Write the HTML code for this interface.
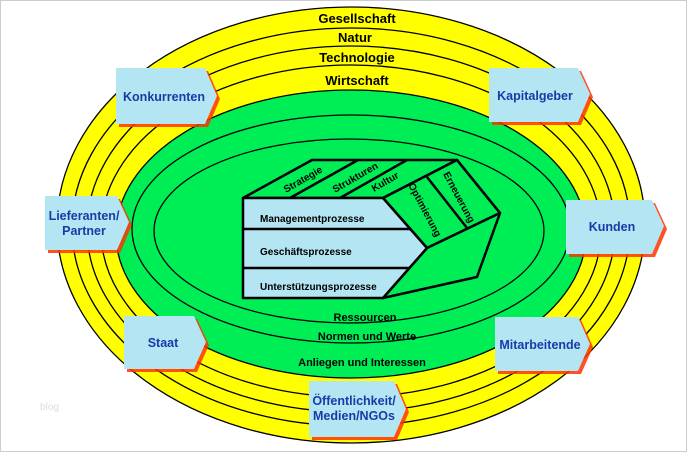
<!DOCTYPE html>
<html><head><meta charset="utf-8"><style>
html,body{margin:0;padding:0;background:#fff}
svg{display:block}
text{font-family:"Liberation Sans",sans-serif;font-weight:bold}
</style></head><body>
<svg width="687" height="452" viewBox="0 0 687 452" xmlns="http://www.w3.org/2000/svg">
<rect x="0.5" y="0.5" width="686" height="451" fill="#fff" stroke="#ccc"/>
<g stroke="#000" stroke-width="1.3">
<ellipse cx="351" cy="225" rx="294" ry="218" fill="#ffff00"/>
<ellipse cx="351" cy="227" rx="279" ry="199" fill="#ffff00"/>
<ellipse cx="351" cy="229" rx="264" ry="183" fill="#ffff00"/>
<ellipse cx="351" cy="231" rx="250" ry="166" fill="#ffff00"/>
<ellipse cx="351" cy="234" rx="235" ry="144" fill="#00ee55"/>
<ellipse cx="351" cy="229" rx="219" ry="114" fill="#00ee55"/>
<ellipse cx="349" cy="231" rx="195" ry="92" fill="#00ee55"/>
</g>
<g font-size="13" text-anchor="middle" fill="#000">
<text x="357" y="23">Gesellschaft</text>
<text x="355" y="42">Natur</text>
<text x="357" y="62">Technologie</text>
<text x="357" y="85">Wirtschaft</text>
</g>
<g font-size="11" text-anchor="middle" fill="#000">
<text x="365" y="321">Ressourcen</text>
<text x="367" y="340">Normen und Werte</text>
<text x="362" y="366">Anliegen und Interessen</text>
</g>
<!-- cube -->
<g stroke="#000" stroke-width="2.5" stroke-linejoin="round">
<polygon points="243,198 312,160 457,160 383,198" fill="#00ee55"/>
<polygon points="383,198 457,160 500,213 427,248" fill="#00ee55"/>
<polygon points="427,248 500,213 477,277 383,298" fill="#00ee55"/>
<polygon points="243,198 383,198 427,248 383,298 243,298" fill="#b3e5f2"/>
<line x1="243" y1="229" x2="410" y2="229"/>
<line x1="243" y1="268" x2="410" y2="268"/>
<line x1="290" y1="198" x2="358" y2="160"/>
<line x1="340" y1="198" x2="407" y2="160"/>
<line x1="427" y1="177" x2="467" y2="228"/>
<line x1="457" y1="160" x2="500" y2="213"/>
</g>
<g font-size="10" fill="#000">
<text x="0" y="0" transform="translate(286,193) rotate(-30)">Strategie</text>
<text x="0" y="0" transform="translate(335,193) rotate(-30)">Strukturen</text>
<text x="0" y="0" transform="translate(374,192) rotate(-30)">Kultur</text>
<text x="0" y="0" transform="translate(408,185) rotate(62)">Optimierung</text>
<text x="0" y="0" transform="translate(443,174) rotate(62)">Erneuerung</text>
<text x="260" y="222">Managementprozesse</text>
<text x="260" y="255">Geschäftsprozesse</text>
<text x="260" y="290">Unterstützungsprozesse</text>
</g>
<!-- arrow boxes -->
<g>
<defs>
<g id="d"></g>
</defs>
<polygon points="119,71 208,71 220,99 208,127 119,127" fill="#ff3300" opacity="0.85"/>
<polygon points="116,68 205,68 217,96 205,124 116,124" fill="#b3e5f2"/>
<polygon points="492,71 581,71 593,97 581,125 492,125" fill="#ff3300" opacity="0.85"/>
<polygon points="489,68 578,68 590,94 578,122 489,122" fill="#b3e5f2"/>
<polygon points="48,199 120,199 132,225 120,253 48,253" fill="#ff3300" opacity="0.85"/>
<polygon points="45,196 117,196 129,222 117,250 45,250" fill="#b3e5f2"/>
<polygon points="569,203 655,203 667,229 655,257 569,257" fill="#ff3300" opacity="0.85"/>
<polygon points="566,200 652,200 664,226 652,254 566,254" fill="#b3e5f2"/>
<polygon points="127,319 197,319 209,345 197,372 127,372" fill="#ff3300" opacity="0.85"/>
<polygon points="124,316 194,316 206,342 194,369 124,369" fill="#b3e5f2"/>
<polygon points="498,320 581,320 593,347 581,374 498,374" fill="#ff3300" opacity="0.85"/>
<polygon points="495,317 578,317 590,344 578,371 495,371" fill="#b3e5f2"/>
<polygon points="312,384 397,384 409,412 397,440 312,440" fill="#ff3300" opacity="0.85"/>
<polygon points="309,381 394,381 406,409 394,437 309,437" fill="#b3e5f2"/>
</g>
<g font-size="12.5" fill="#1a3aa8" text-anchor="middle">
<text x="164" y="101">Konkurrenten</text>
<text x="535" y="100">Kapitalgeber</text>
<text x="84" y="220">Lieferanten/</text>
<text x="84" y="235">Partner</text>
<text x="612" y="231">Kunden</text>
<text x="163" y="347">Staat</text>
<text x="540" y="349">Mitarbeitende</text>
<text x="354" y="405">Öffentlichkeit/</text>
<text x="354" y="420">Medien/NGOs</text>
</g>
<text x="40" y="410" font-size="10" font-weight="normal" fill="#ddd" style="font-weight:normal">blog</text>
</svg>
</body></html>
